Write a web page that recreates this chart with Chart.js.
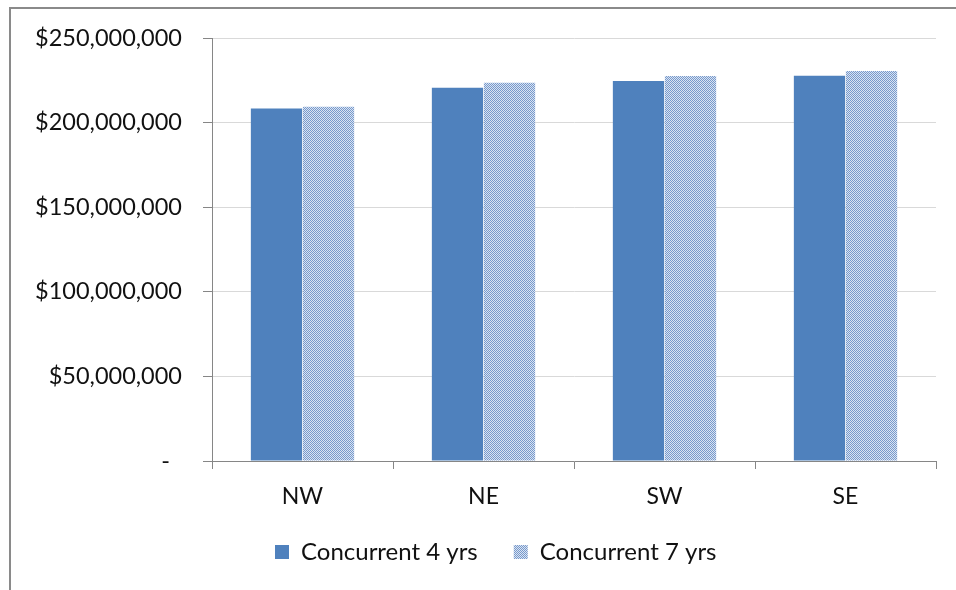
<!DOCTYPE html>
<html>
<head>
<meta charset="utf-8">
<script src="https://cdn.jsdelivr.net/npm/chart.js@4/dist/chart.umd.min.js"></script>
<style>
  html, body { margin: 0; padding: 0; background: #fff; }
  #wrap { width: 956px; height: 590px; }
</style>
</head>
<body>
<div id="wrap"><canvas id="c" width="956" height="590"></canvas></div>
<script>
// Regions and totals per scenario
const regions = ['NW', 'NE', 'SW', 'SE'];
const concurrent4 = [208400000, 220600000, 224600000, 227700000];
const concurrent7 = [209400000, 223600000, 227500000, 230500000];
const seriesNames = ['Concurrent 4 yrs', 'Concurrent 7 yrs'];
const yTickValues = [0, 50000000, 100000000, 150000000, 200000000, 250000000];

const FONT = 'Lato, "Liberation Sans", sans-serif';
const AXIS = '#868686';
const TEXT = '#111';

// Fine checkered fill for the second series
function checkerPattern() {
  const p = document.createElement('canvas');
  p.width = 2; p.height = 2;
  const g = p.getContext('2d');
  g.fillStyle = '#dae4f2';
  g.fillRect(0, 0, 2, 2);
  g.fillStyle = '#7799cc';
  g.fillRect(0, 0, 1, 1);
  g.fillRect(1, 1, 1, 1);
  return document.getElementById('c').getContext('2d').createPattern(p, 'repeat');
}

// White page with a grey frame along the top and left
const framePlugin = {
  id: 'frame',
  beforeDraw(chart) {
    const ctx = chart.ctx;
    ctx.save();
    ctx.fillStyle = '#fff';
    ctx.fillRect(0, 0, chart.width, chart.height);
    ctx.strokeStyle = '#8a8a8a';
    ctx.lineWidth = 2;
    ctx.beginPath();
    ctx.moveTo(10, chart.height);
    ctx.lineTo(10, 8);
    ctx.lineTo(chart.width, 8);
    ctx.stroke();
    ctx.restore();
  }
};

// Legend is centred on the whole frame rather than on the plot area
const legendShift = {
  id: 'legendShift',
  afterLayout(chart) {
    const lg = chart.legend;
    if (!lg || !lg.lineWidths) return;
    const p = lg.options.labels.padding;
    const start = (lg.left + p + lg.right - lg.lineWidths[0]) / 2;
    const d = 275 - start;
    lg.left += d;
    lg.right += d;
  }
};

new Chart(document.getElementById('c'), {
  type: 'bar',
  data: {
    labels: regions,
    datasets: [
      { label: seriesNames[0], data: concurrent4, backgroundColor: '#4f81bd', borderWidth: 0 },
      { label: seriesNames[1], data: concurrent7, backgroundColor: checkerPattern(), borderWidth: 0 }
    ]
  },
  options: {
    responsive: false,
    animation: false,
    layout: { padding: { left: 0, top: 38, right: 20, bottom: 16 } },
    datasets: { bar: { categoryPercentage: 0.575, barPercentage: 0.985 } },
    plugins: {
      tooltip: { enabled: false },
      legend: {
        position: 'bottom',
        labels: {
          font: { family: FONT, size: 24 },
          color: TEXT,
          boxWidth: 14,
          boxHeight: 14,
          padding: 36
        }
      }
    },
    scales: {
      x: {
        grid: { drawOnChartArea: false, offset: true, color: AXIS, tickLength: 8 },
        border: { color: AXIS, width: 1 },
        ticks: { font: { family: FONT, size: 23 }, color: TEXT, padding: 14 },
        afterFit(s) { s.height = 43; }
      },
      y: {
        min: 0,
        max: 250000000,
        afterBuildTicks(s) { s.ticks = yTickValues.map(v => ({ value: v })); },
        grid: { color: '#d9d9d9', tickColor: AXIS, tickLength: 9 },
        border: { color: AXIS, width: 1 },
        ticks: {
          font: { family: FONT, size: 23.5 },
          color: TEXT,
          padding: 21,
          callback: v => v === 0 ? '-  ' : '$' + v.toLocaleString('en-US')
        },
        afterFit(s) { s.width = 212; }
      }
    }
  },
  plugins: [framePlugin, legendShift]
});
</script>
</body>
</html>
